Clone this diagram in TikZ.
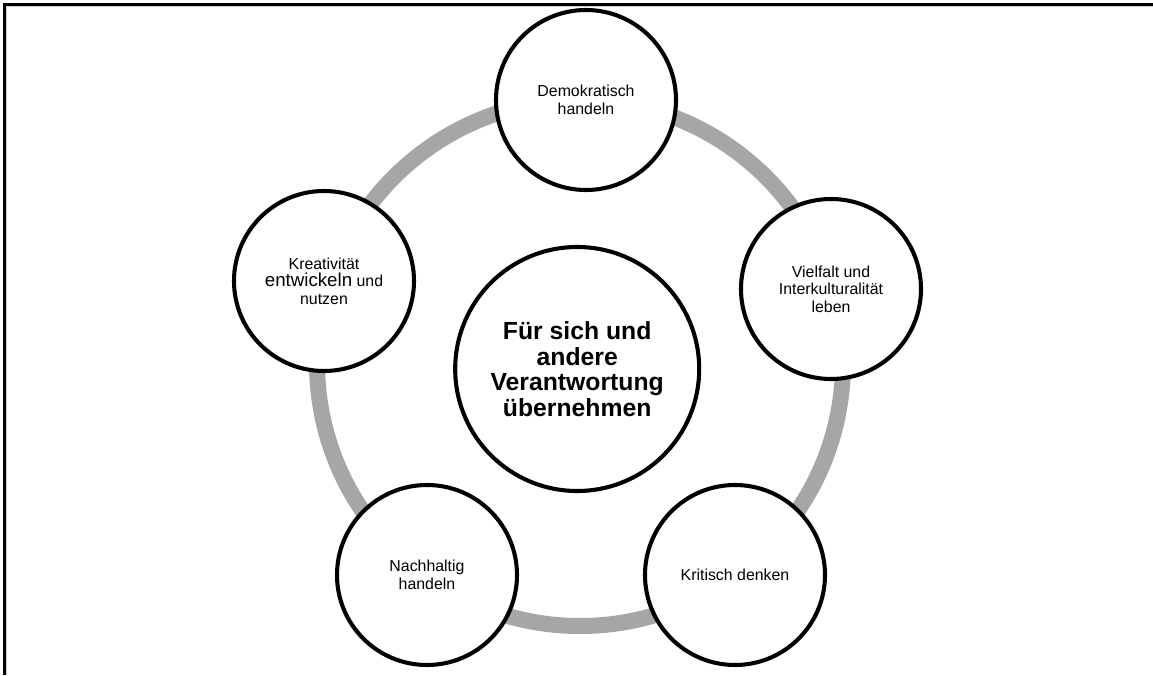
\documentclass[tikz,border=0pt]{standalone}
\usepackage{fontspec}
\setmainfont{Liberation Sans}
\usepackage{tikz}

\definecolor{ringgray}{RGB}{166,166,166}
\definecolor{shadegray}{RGB}{200,200,200}
\tikzset{
  goal/.style={circle, draw=black, line width=2.9pt, fill=white, minimum size=4.5cm,
    inner sep=0pt, align=center, font=\fontsize{11.3}{12.4}\selectfont},
  core/.style={circle, draw=black, line width=2.9pt, fill=white, minimum size=6.1cm,
    inner sep=0pt, align=center, font=\fontsize{17.6}{18.2}\selectfont\bfseries},
  ring/.style={draw=ringgray, line width=0.4cm}
}

\begin{document}
\begin{tikzpicture}
\useasboundingbox (0, 0) rectangle (28.825, 16.875);

% frame
\coordinate (f1) at (0.11, 0);
\coordinate (f2) at (0.11, 16.76);
\coordinate (f3) at (28.825, 16.76);
\draw[shadegray, line width=0.8pt] (0.155, 0) -- (0.155, 16.715) -- (28.825, 16.715);
\draw[line width=1.6pt] (f1) -- (f2) -- (f3);

% ring behind the circles
\coordinate (m) at (14.5, 7.8);
\draw[ring] (m) circle (6.575);

\node[core] (mitte) at (14.43, 7.65) {F\"ur sich und\\andere\\Verantwortung\\\"ubernehmen};

\node[goal] (demo) at (14.65, 14.375) {Demokratisch\\handeln};
\node[goal] (viel) at (20.775, 9.65) {Vielfalt und\\Interkulturalit\"at\\leben};
\node[goal] (krea) at (8.1, 9.85) {Kreativit\"at\\{\fontsize{13.3}{12.4}\selectfont entwickeln} und\\nutzen};
\node[goal] (nach) at (10.675, 2.5) {Nachhaltig\\handeln};
\node[goal] (krit) at (18.375, 2.5) {Kritisch denken};

\end{tikzpicture}
\end{document}
